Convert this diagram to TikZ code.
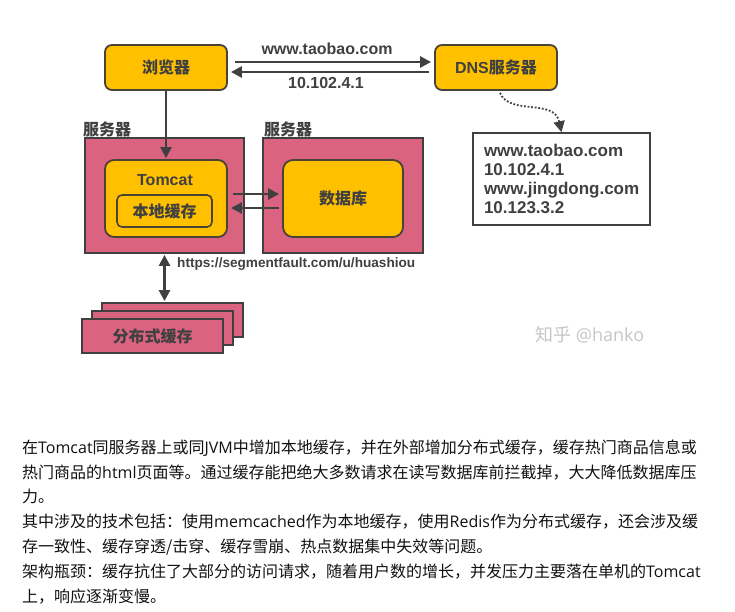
\documentclass[tikz,border=0pt]{standalone}
\usepackage{fontspec}
\setmainfont{Noto Sans CJK SC}
\newfontfamily\lat{Liberation Sans}
\newfontfamily\seg{Open Sans}
\usetikzlibrary{arrows.meta,calc}
\definecolor{gold}{HTML}{FFC000}
\definecolor{rose}{HTML}{DA637F}
\definecolor{ink}{HTML}{404040}
\definecolor{edge}{HTML}{4A4234}
\definecolor{txt}{HTML}{111111}

\begin{document}
\begin{tikzpicture}
  [
    x=1pt, y=-1pt,
    font=\bfseries\fontsize{16}{19}\selectfont,
    text=ink,
    box/.style =
      {draw=edge, line width=1.8pt, fill=gold, rounded corners=7pt,
       minimum width=122pt, minimum height=45pt, inner sep=0pt},
    srv/.style =
      {draw=ink, line width=1.8pt, fill=rose, minimum width=159pt,
       minimum height=115pt, inner sep=0pt},
    dcache/.style =
      {draw=ink, line width=1.8pt, fill=rose, minimum width=141pt,
       minimum height=34pt, inner sep=0pt},
    para/.style =
      {anchor=base west, inner sep=0pt, text=txt,
       font=\mdseries\fontsize{16}{19}\selectfont},
    arr/.style = {-{Triangle[length=11pt,width=11pt]}, line width=2.5pt, draw=ink},
    darr/.style = {{Triangle[length=11pt,width=11pt]}-{Triangle[length=11pt,width=11pt]},
      line width=2.5pt, draw=ink}
  ]
  \useasboundingbox (0,0) rectangle (735,611);

  % top row
  \node [box] at (166, 67.5) (br)  {浏览器};
  \node [box] at (496, 67.5) (dns) {{\lat DNS}服务器};
  \node at (327, 49) (q) {\lat www.taobao.com};
  \node at (326, 83) (a) {\lat 10.102.4.1};

  \draw [arr] ([xshift=7pt, yshift=5.5pt]br.east) -- ([xshift=-3pt, yshift=5.5pt]dns.west);
  \draw [arr] ([xshift=-5pt, yshift=-4.5pt]dns.west) -- ([xshift=3pt, yshift=-4.5pt]br.east);

  % dns table
  \node [draw=ink, line width=1.6pt, fill=white, minimum width=177pt, minimum height=92pt,
         inner xsep=11pt, inner ysep=0pt, text width=155pt, align=left,
         font=\bfseries\lat\fontsize{17}{19}\selectfont] at (561.5, 179) (tab)
    {www.taobao.com\\10.102.4.1\\www.jingdong.com\\10.123.3.2};
  \draw [-{Triangle[length=11pt,width=11pt]}, draw=ink, line width=1.8pt,
         dash pattern=on 1.8pt off 1.8pt]
    ([xshift=4pt, yshift=-2pt]dns.south) .. controls (510, 116) and (554, 98) .. (tab.north);

  % servers
  \node [srv] at (164.5, 195.5) (sa) {};
  \node [srv, minimum width=160pt] at (343, 195.5) (sb) {};
  \node [anchor=west, inner sep=0pt] at (83, 129) (la) {服务器};
  \node [anchor=west, inner sep=0pt] at (264, 129) (lb) {服务器};

  \node [box, minimum height=77pt, rounded corners=9pt] at (166, 198.5) (tc) {};
  \node at (165, 180) (tct) {\lat Tomcat};
  \node [box, minimum width=95pt, minimum height=32pt, rounded corners=5pt,
         line width=1.6pt] at (164.5, 211) (lc) {本地缓存};
  \node [box, minimum width=120pt, minimum height=77pt, rounded corners=10pt]
    at (343, 198.5) (db) {数据库};

  \draw [arr] (br.south) -- ([yshift=1pt]tc.north);
  \draw [arr] ([xshift=5pt, yshift=4.5pt]tc.east) -- ([xshift=-3pt, yshift=4.5pt]db.west);
  \draw [arr] ([xshift=-3pt, yshift=-9.5pt]db.west) -- ([xshift=3pt, yshift=-9.5pt]tc.east);

  % distributed cache
  \node [dcache] at (172.5, 320) (c3) {};
  \node [dcache] at (162.5, 328) (c2) {};
  \node [dcache] at (152.5, 336) (c1) {分布式缓存};
  \draw [darr] ([yshift=-1pt]sa.south) -- ([yshift=1pt]sa.south |- c3.north);
  \node [anchor=west, inner sep=0pt, font=\bfseries\lat\fontsize{13.6}{16}\selectfont]
    at (177, 264) (url) {https://segmentfault.com/u/huashiou};

  \node [text=gray!45, font=\mdseries\fontsize{18}{20}\selectfont] at (590, 335) (wm)
    {知乎 {\seg @hanko}};

  % text below
  \node [para] at (22, 453) (p1) {在{\seg Tomcat}同服务器上或同{\seg JVM}中增加本地缓存，并在外部增加分布式缓存，缓存热门商品信息或};
  \node [para] at (22, 478) (p2) {热门商品的{\seg html}页面等。通过缓存能把绝大多数请求在读写数据库前拦截掉，大大降低数据库压};
  \node [para] at (22, 502) (p3) {力。};
  \node [para] at (22, 527) (p4) {其中涉及的技术包括：使用{\seg memcached}作为本地缓存，使用{\seg Redis}作为分布式缓存，还会涉及缓};
  \node [para] at (22, 552) (p5) {存一致性、缓存穿透/击穿、缓存雪崩、热点数据集中失效等问题。};
  \node [para] at (22, 577) (p6) {架构瓶颈：缓存抗住了大部分的访问请求，随着用户数的增长，并发压力主要落在单机的{\seg Tomcat}};
  \node [para] at (22, 602) (p7) {上，响应逐渐变慢。};

\end{tikzpicture}
\end{document}
